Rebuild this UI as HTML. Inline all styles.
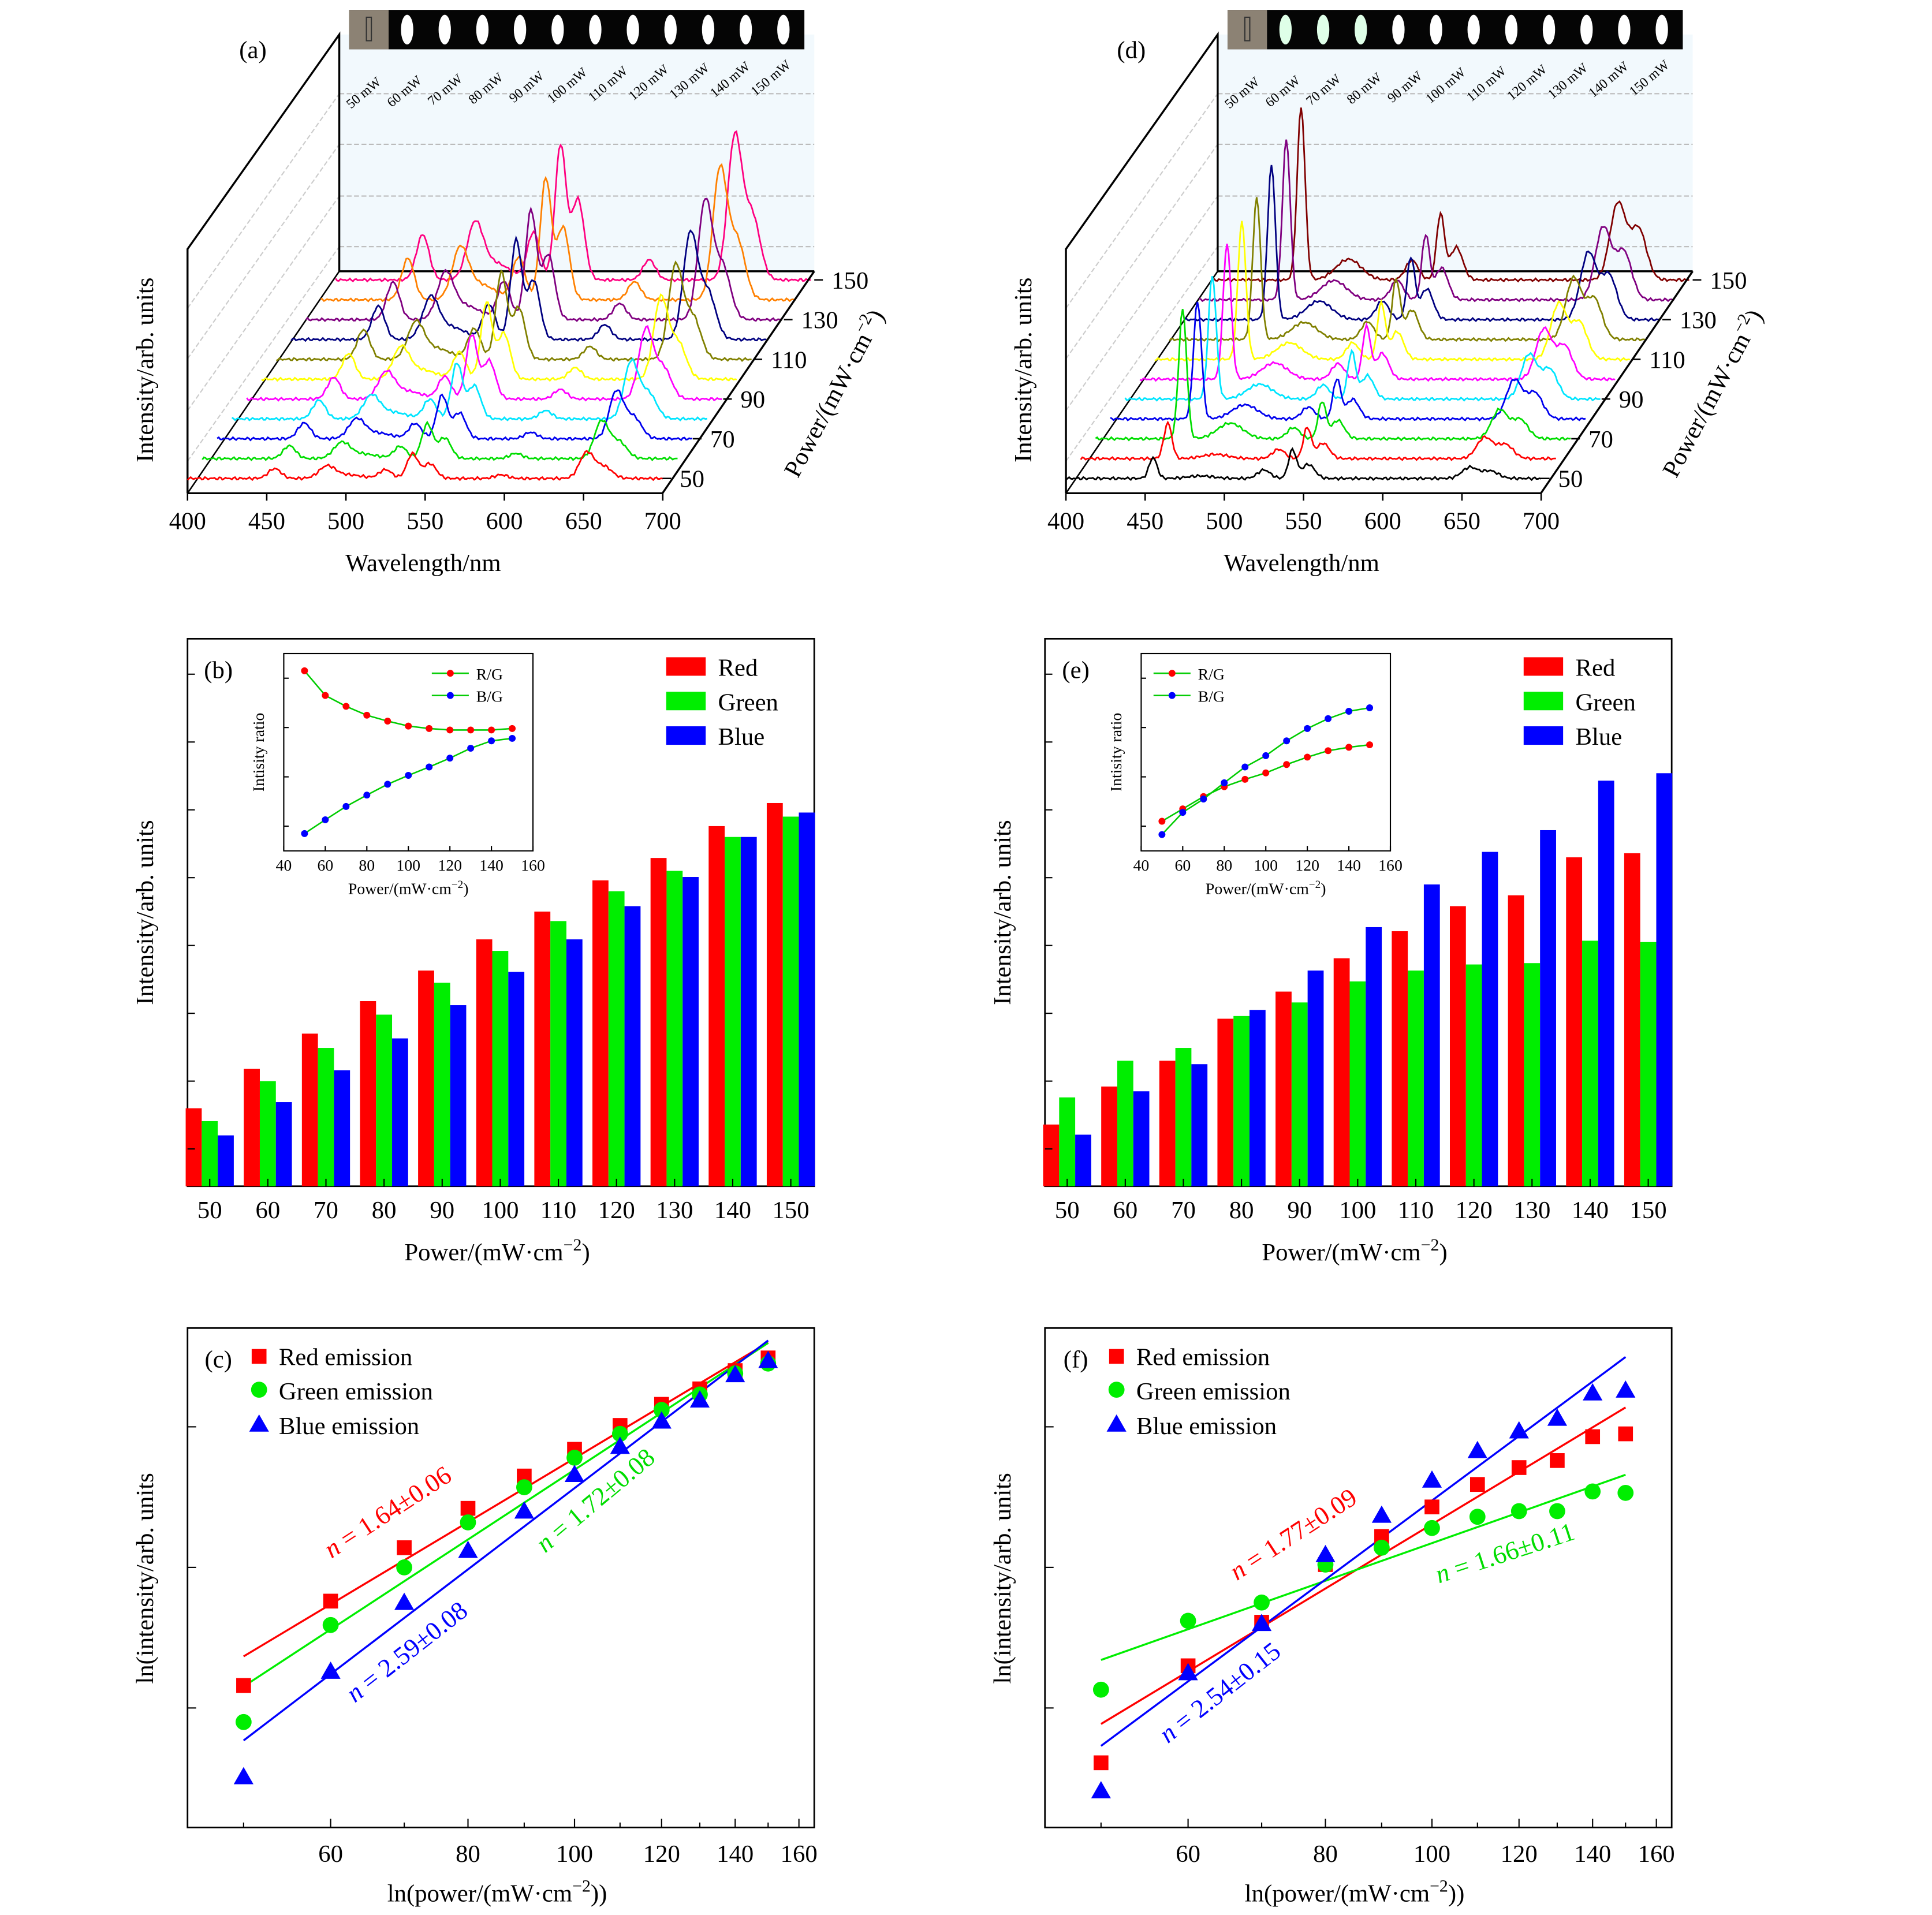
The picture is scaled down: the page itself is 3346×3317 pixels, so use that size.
<!DOCTYPE html>
<html><head><meta charset="utf-8"><style>
html,body{margin:0;padding:0;background:#fff;}
svg{display:block;}
text{font-family:"Liberation Serif",serif;}
</style></head><body>
<svg id="chart" xmlns="http://www.w3.org/2000/svg" width="3346" height="3317" viewBox="0 0 1566 1553" preserveAspectRatio="none"></svg>
<script>
// ---------- data ----------
const powers=[50,60,70,80,90,100,110,120,130,140,150];
// panel a spectra peak amplitudes (arb)
const aBlue=[10,13,16,19,22,26,30,34,38,42,46];
const aGreen=[20,28,35,45,52,62,70,80,88,98,109];
const aRed=[21,30,38,46,56,65,75,85,95,105,115];
const dBlue=[17,29,105,95,100,110,112,115,125,130,140];
const dGreen=[23,25,30,32,38,42,45,48,50,52,53];
const dRed=[10,19,26,35,40,45,50,55,60,65,69];
const wlTicks=[400,450,500,550,600,650,700];
const powTicks=[50,70,90,110,130,150];
// panel b bars
const bRed=[1.15,1.73,2.25,2.73,3.18,3.64,4.05,4.51,4.84,5.31,5.65];
const bGreen=[0.96,1.55,2.04,2.53,3.0,3.47,3.91,4.35,4.65,5.15,5.45];
const bBlue=[0.75,1.24,1.71,2.18,2.67,3.16,3.64,4.13,4.56,5.15,5.51];
const eRed=[0.91,1.47,1.85,2.47,2.87,3.36,3.76,4.13,4.29,4.85,4.91];
const eGreen=[1.31,1.85,2.04,2.51,2.71,3.02,3.18,3.27,3.29,3.62,3.6];
const eBlue=[0.76,1.40,1.80,2.60,3.18,3.82,4.45,4.93,5.25,5.98,6.09];
const barTicks=[0.55,1.55,2.55,3.55,4.55,5.55,6.55,7.55];
// insets
const bRG=[3.65,3.15,2.93,2.75,2.63,2.53,2.48,2.45,2.45,2.45,2.48];
const bBG=[0.35,0.63,0.9,1.13,1.35,1.53,1.7,1.88,2.08,2.23,2.28];
const eRG=[0.6,0.85,1.1,1.3,1.45,1.58,1.75,1.9,2.03,2.1,2.15];
const eBG=[0.33,0.78,1.05,1.38,1.7,1.93,2.23,2.48,2.68,2.83,2.9];
const insetTicks=[40,60,80,100,120,140,160];
// ln plots
const cRed=[1.01,1.61,1.99,2.27,2.50,2.69,2.86,3.01,3.12,3.25,3.34];
const cGreen=[0.75,1.44,1.85,2.17,2.42,2.63,2.80,2.97,3.08,3.23,3.30];
const cBlue=[0.36,1.11,1.60,1.97,2.25,2.51,2.71,2.89,3.04,3.22,3.32];
const fRed=[0.46,1.15,1.46,1.87,2.07,2.28,2.44,2.56,2.61,2.78,2.80];
const fGreen=[0.98,1.47,1.60,1.87,1.99,2.13,2.21,2.25,2.25,2.39,2.38];
const fBlue=[0.26,1.10,1.45,1.94,2.22,2.47,2.68,2.82,2.91,3.09,3.11];
const lnTicks=[60,80,100,120,140,160];
const lnYTicks=[0.85,1.85,2.85];

// ---------- helpers ----------
const NS='http://www.w3.org/2000/svg';
const svg=document.getElementById('chart');
function mk(tag,attrs,parent){const e=document.createElementNS(NS,tag);for(const k in attrs)e.setAttribute(k,attrs[k]);(parent||svg).appendChild(e);return e;}
function txt(x,y,s,size,anchor,fill,rot,style){const t=mk('text',{x:x,y:y,'font-size':size,'text-anchor':anchor||'middle',fill:fill||'#000'});if(rot)t.setAttribute('transform','rotate('+rot+' '+x+' '+y+')');if(style)t.setAttribute('font-style',style);t.textContent=s;return t;}

// ---------- 3D waterfall panels ----------
function gauss(x,m,s){return Math.exp(-0.5*((x-m)/s)*((x-m)/s));}
function waterfall(ox,label,B,G,R,colors,kind){
  const g=mk('g',{});
  
  
  const x0=152+ox, y0=400, ddx=12.0, ddy=-16.1, sx=1.284;
  const backX=x0+123, backY=220;
  // back plane
  const bp=mk('rect',{x:backX,y:28,width:385,height:backY-28,fill:'#f2f9fd',stroke:'none'},g);
  
  
  [76,117,159,200].forEach(function(yy){
    const l=mk('line',{x1:backX,y1:yy,x2:backX+385,y2:yy,stroke:'#bbb','stroke-width':1,'stroke-dasharray':'4,2'},g);
    
    
    const d=mk('line',{x1:x0,y1:yy+174,x2:backX,y2:yy,stroke:'#ccc','stroke-width':1,'stroke-dasharray':'4,2'},g);
    
    
  });
  // frame
  const fr=mk('path',{d:'M'+x0+' '+y0+' L'+x0+' 202 L'+backX+' 28 L'+backX+' '+backY+' L'+(backX+385)+' '+backY,fill:'none',stroke:'#000','stroke-width':1.6},g);
  
  
  const fl=mk('line',{x1:x0,y1:y0,x2:backX,y2:backY,stroke:'#000','stroke-width':1.2},g);
  
  
  // top strip image
  const st=mk('rect',{x:backX+8,y:8,width:369,height:32,fill:'#050505'},g);
  
  
  const st2=mk('rect',{x:backX+8,y:8,width:32,height:32,fill:'#8c8274'},g);
  
  
  const st3=mk('rect',{x:backX+22,y:14,width:4,height:19,fill:'none',stroke:'#333','stroke-width':1},g);
  
  
  for(let i=0;i<11;i++){
    const cx=backX+55+i*30.5;
    const el=mk('ellipse',{cx:cx,cy:24,rx:5,ry:12,fill:(kind==='d'&&i<3)?'#dfffe8':'#fff'},g);
    
    
  }
  // mW labels
  powers.forEach(function(p,i){
    const t=txt(backX+22+i*33,78-i*1.2,p+' mW',11,'middle','#000',-40,null);
    
    
  });
  // spectra back to front
  for(let k=10;k>=0;k--){
    let d='';
    for(let wl=400;wl<=700;wl+=1){
      let v;
      if(kind==='a'){
        v=B[k]*(0.8*gauss(wl,455,4)+0.9*gauss(wl,488,5)+0.3*gauss(wl,500,10))+G[k]*(0.35*gauss(wl,525,4)+1*gauss(wl,542,3.5)+0.6*gauss(wl,553,4)+0.15*gauss(wl,598,4))+R[k]*(1*gauss(wl,652,4.5)+0.45*gauss(wl,663,5));
      } else {
        v=B[k]*(1*gauss(wl,455,2.5)+0.12*gauss(wl,485,8))+G[k]*(0.3*gauss(wl,525,4)+1*gauss(wl,543,2.5)+0.5*gauss(wl,553,4))+R[k]*(0.9*gauss(wl,655,5)+0.6*gauss(wl,668,5));
      }
      v+=1.2*Math.sin(wl*1.7+k)*Math.sin(wl*0.31);
      const px=x0+k*ddx+(wl-400)*sx, py=y0-12+k*ddy-v;
      d+=(wl===400?'M':'L')+px.toFixed(1)+' '+py.toFixed(1);
    }
    const pth=mk('path',{d:d,fill:'none',stroke:colors[k],'stroke-width':1.3},g);
    
    
  }
  // front axis
  const ax=mk('line',{x1:x0,y1:y0,x2:x0+385,y2:y0,stroke:'#000','stroke-width':1.6},g);
  
  
  const ax2=mk('line',{x1:x0+385,y1:y0,x2:backX+385,y2:backY,stroke:'#000','stroke-width':1.6},g);
  
  
  wlTicks.forEach(function(w){
    const xx=x0+(w-400)*sx;
    const tk=mk('line',{x1:xx,y1:y0,x2:xx,y2:y0+6,stroke:'#000','stroke-width':1.2},g);
    
    
    const t=txt(xx,y0+29,String(w),20,'middle');
    
    
  });
  powTicks.forEach(function(p){
    const k=(p-50)/10;
    const xx=x0+385+k*12.3, yy=y0-12+k*ddy;
    const tk=mk('line',{x1:xx,y1:yy,x2:xx+7,y2:yy,stroke:'#000','stroke-width':1.2},g);
    
    
    const t=txt(xx+14,yy+7,String(p),20,'start');
    
    
  });
  const xl=txt(x0+191,y0+63,'Wavelength/nm',20,'middle');
  
  
  const yl=txt(x0-28,300,'Intensity/arb. units',20,'middle','#000',-90);
  
  
  const pl=mk('text',{x:x0+530,y:322,'font-size':20,'text-anchor':'middle',transform:'rotate(-62 '+(x0+530)+' 322)'},g);
  pl.innerHTML='Power/(mW·cm<tspan dy="-8" font-size="14">−2</tspan><tspan dy="8">)</tspan>';
  
  
  const lb=txt(x0+53,47,'('+label+')',20,'middle');
  
  
}
waterfall(0,'a',aBlue,aGreen,aRed,['#ff0000','#00dd00','#0000ee','#00e5ff','#ff00ff','#ffff00','#808000','#000080','#800080','#ff8000','#ff0080'],'a');
waterfall(712,'d',dBlue,dGreen,dRed,['#000000','#ff0000','#00dd00','#0000ee','#00e5ff','#ff00ff','#ffff00','#808000','#000080','#800080','#800000'],'d');

// ---------- bar panels ----------
function barPanel(ox,label,R,G,B,RG,BG){
  const left=152+ox,right=660+ox,top=518,bot=962;
  const xS=function(p){return left+18+(p-50)*4.71;};
  const yS=function(v){return bot-v*55;};
  const box=mk('rect',{x:left,y:top,width:right-left,height:bot-top,fill:'none',stroke:'#000','stroke-width':1.3});
  
  
  powers.forEach(function(p,i){
    const cx=xS(p);
    [[R,'#ff0000',-19.5],[G,'#00ee00',-6.5],[B,'#0000ff',6.5]].forEach(function(s,j){
      const r=mk('rect',{x:cx+s[2],y:yS(s[0][i]),width:13,height:bot-yS(s[0][i]),fill:s[1]});
      
      
    });
    const tk=mk('line',{x1:cx,y1:bot,x2:cx,y2:bot-6,stroke:'#000'});
    
    
    const t=txt(cx,bot+26,String(p),20,'middle');
    
    
  });
  barTicks.forEach(function(v){
    const tk=mk('line',{x1:left,y1:yS(v),x2:left+6,y2:yS(v),stroke:'#000'});
    
    
  });
  const xl=mk('text',{x:left+251,y:bot+60,'font-size':20,'text-anchor':'middle'});
  xl.innerHTML='Power/(mW·cm<tspan dy="-8" font-size="14">−2</tspan><tspan dy="8">)</tspan>';
  
  
  const yl=txt(left-28,740,'Intensity/arb. units',20,'middle','#000',-90);
  
  
  const lb=txt(left+25,550,'('+label+')',20,'middle');
  
  
  ['Red','Green','Blue'].forEach(function(n,i){
    const r=mk('rect',{x:left+388,y:533+i*28,width:32,height:15,fill:['#ff0000','#00ee00','#0000ff'][i]});
    
    
    const t=txt(left+430,548+i*28,n,20,'start');
    
    
  });
  // inset
  const il=230+ox,ir=432+ox,it=530,ib=690;
  const ix=function(p){return il+(p-40)*(202/120);};
  const iy=function(v){return ib-v*40;};
  const ibox=mk('rect',{x:il,y:it,width:ir-il,height:ib-it,fill:'#fff',stroke:'#000','stroke-width':1});
  
  
  insetTicks.forEach(function(p){
    const tk=mk('line',{x1:ix(p),y1:ib,x2:ix(p),y2:ib-4,stroke:'#000'});
    
    
    const t=txt(ix(p),ib+16,String(p),13,'middle');
    
    
  });
  [0.5,1.5,2.5,3.5].forEach(function(v){
    const tk=mk('line',{x1:il,y1:iy(v),x2:il+4,y2:iy(v),stroke:'#000'});
    
    
  });
  [[RG,'#ff0000','rg'],[BG,'#0000ff','bg']].forEach(function(s){
    const pts=powers.map(function(p,i){return ix(p).toFixed(1)+','+iy(s[0][i]).toFixed(1);}).join(' ');
    const pl=mk('polyline',{points:pts,fill:'none',stroke:'#00cc00','stroke-width':1.2});
    
    
    powers.forEach(function(p,i){
      const c=mk('circle',{cx:ix(p),cy:iy(s[0][i]),r:2.8,fill:s[1]});
      
      
    });
  });
  [['R/G','#ff0000'],['B/G','#0000ff']].forEach(function(s,i){
    const yy=546+i*18, xx=(label==='b')?il+120:il+10;
    const l=mk('line',{x1:xx,y1:yy,x2:xx+30,y2:yy,stroke:'#00cc00','stroke-width':1.2});
    
    
    const c=mk('circle',{cx:xx+15,cy:yy,r:2.8,fill:s[1]});
    
    
    const t=txt(xx+36,yy+5,s[0],13,'start');
    
    
  });
  const iyl=txt(il-16,610,'Intisity ratio',13,'middle','#000',-90);
  
  
  const ixl=mk('text',{x:(il+ir)/2,y:ib+35,'font-size':13,'text-anchor':'middle'});
  ixl.innerHTML='Power/(mW·cm<tspan dy="-5" font-size="9">−2</tspan><tspan dy="5">)</tspan>';
  
  
}
barPanel(0,'b',bRed,bGreen,bBlue,bRG,bBG);
barPanel(695,'e',eRed,eGreen,eBlue,eRG,eBG);

// ---------- ln-ln panels ----------
function lnPanel(ox,label,R,G,B,notes){
  const left=152+ox,right=660+ox,top=1077,bot=1482;
  const xS=function(p){return left+116+387*(Math.log(p)-Math.log(60));};
  const yS=function(v){return bot-v*114;};
  const box=mk('rect',{x:left,y:top,width:right-left,height:bot-top,fill:'none',stroke:'#000','stroke-width':1.3});
  
  
  lnTicks.forEach(function(p){
    const tk=mk('line',{x1:xS(p),y1:bot,x2:xS(p),y2:bot-7,stroke:'#000'});
    
    
    const t=txt(xS(p),bot+28,String(p),20,'middle');
    
    
  });
  [50,70,90,110,130,150].forEach(function(p){
    const tk=mk('line',{x1:xS(p),y1:bot,x2:xS(p),y2:bot-4,stroke:'#000'});
    
    
  });
  lnYTicks.forEach(function(v){
    const tk=mk('line',{x1:left,y1:yS(v),x2:left+7,y2:yS(v),stroke:'#000'});
    
    
  });
  const series=[[R,'#ff0000','red'],[G,'#00ee00','green'],[B,'#0000ff','blue']];
  series.forEach(function(s){
    const xs=powers.map(function(p){return Math.log(p);});
    const n=xs.length;let mx=0,my=0;for(let i=0;i<n;i++){mx+=xs[i];my+=s[0][i];}mx/=n;my/=n;
    let sxy=0,sxx=0;for(let i=0;i<n;i++){sxy+=(xs[i]-mx)*(s[0][i]-my);sxx+=(xs[i]-mx)*(xs[i]-mx);}
    const k=sxy/sxx,b=my-k*mx;
    const l=mk('line',{x1:xS(50),y1:yS(k*Math.log(50)+b),x2:xS(150),y2:yS(k*Math.log(150)+b),stroke:s[1],'stroke-width':1.6});
    
    
  });
  series.forEach(function(s){
    powers.forEach(function(p,i){
      const cx=xS(p),cy=yS(s[0][i]);let m;
      if(s[2]==='red')m=mk('rect',{x:cx-6,y:cy-6,width:12,height:12,fill:s[1]});
      else if(s[2]==='green')m=mk('circle',{cx:cx,cy:cy,r:6.5,fill:s[1]});
      else m=mk('polygon',{points:(cx-8)+','+(cy+6)+' '+(cx+8)+','+(cy+6)+' '+cx+','+(cy-8),fill:s[1]});
      
      
    });
  });
  const lx=left+58;
  const m1=mk('rect',{x:lx-6,y:1094,width:12,height:12,fill:'#ff0000'});
  
  
  const m2=mk('circle',{cx:lx,cy:1127,r:6.5,fill:'#00ee00'});
  
  
  const m3=mk('polygon',{points:(lx-8)+',1161 '+(lx+8)+',1161 '+lx+',1147',fill:'#0000ff'});
  
  
  ['Red emission','Green emission','Blue emission'].forEach(function(s,i){
    const t=txt(lx+16,1107+i*28,s,20,'start');
    
    
  });
  const lb=txt(left+25,1109,'('+label+')',20,'middle');
  
  
  notes.forEach(function(nt){
    const t=mk('text',{x:nt[0]+ox,y:nt[1],'font-size':21,'text-anchor':'middle',fill:nt[3],transform:'rotate('+nt[2]+' '+(nt[0]+ox)+' '+nt[1]+')'});
    t.innerHTML='<tspan font-style="italic">n</tspan> = '+nt[4];
    
    
  });
  const xl=mk('text',{x:left+251,y:bot+60,'font-size':20,'text-anchor':'middle'});
  xl.innerHTML='ln(power/(mW·cm<tspan dy="-8" font-size="14">−2</tspan><tspan dy="8">))</tspan>';
  
  
  const yl=txt(left-28,1280,'ln(intensity/arb. units',20,'middle','#000',-90);
  
  
}
lnPanel(0,'c',cRed,cGreen,cBlue,[[318,1232,-33,'#ff0000','1.64±0.06'],[487,1222,-40,'#00dd00','1.72±0.08'],[334,1345,-38,'#0000ff','2.59±0.08']]);
lnPanel(695,'f',fRed,fGreen,fBlue,[[357,1250,-33,'#ff0000','1.77±0.09'],[527,1266,-18,'#00dd00','1.66±0.11'],[298,1378,-38,'#0000ff','2.54±0.15']]);
</script>
</body></html>
